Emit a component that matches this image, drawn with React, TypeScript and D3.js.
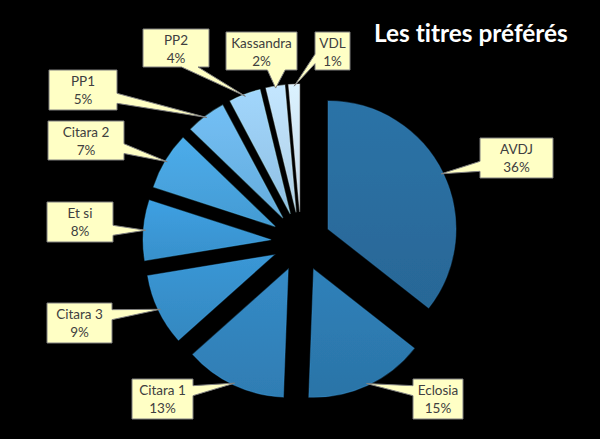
import * as d3 from 'd3';

const chartTitle = 'Les titres préférés';
const titles = ['AVDJ', 'Eclosia', 'Citara 1', 'Citara 3', 'Et si', 'Citara 2', 'PP1', 'PP2', 'Kassandra', 'VDL'];
const shares = [35.6, 15.0, 12.8, 9.0, 7.6, 7.2, 5.0, 4.0, 2.4, 1.4];
const sliceColors = ['#2a6d9e', '#2d7ab0', '#3284bd', '#378fcb', '#3b98d6', '#48a3df', '#6cb5e8', '#99cbef', '#b9daf3', '#d0e5f6'];

// callouts were placed by hand in the source chart
const calloutBoxes = [
  { x: 480, y: 138, w: 73, h: 40 },
  { x: 413, y: 379, w: 50, h: 40 },
  { x: 132, y: 379, w: 61, h: 40 },
  { x: 47, y: 303, w: 65, h: 40 },
  { x: 47, y: 202, w: 66, h: 40 },
  { x: 48, y: 121, w: 76, h: 39 },
  { x: 49, y: 70, w: 68, h: 40 },
  { x: 143, y: 29, w: 66, h: 38 },
  { x: 226, y: 32, w: 71, h: 38 },
  { x: 315, y: 32, w: 35, h: 38 },
];

const W = 600;
const H = 439;
const cx = 301;
const cy = 242;
const radius = 128;
const explode = 30;

type Box = { x: number; y: number; w: number; h: number };

// Excel-like wedge rectangle callout
function calloutPath(b: Box, tx: number, ty: number) {
  const { x, y, w, h } = b;
  const dx = tx - (x + w / 2);
  const dy = ty - (y + h / 2);
  const r = x + w;
  const bt = y + h;
  if (Math.abs(dx) / w > Math.abs(dy) / h) {
    const y1 = y + (h * (dy > 0 ? 7 : 2)) / 12;
    const y2 = y + (h * (dy > 0 ? 10 : 5)) / 12;
    if (dx > 0) return `M${x},${y}H${r}V${y1}L${tx},${ty}L${r},${y2}V${bt}H${x}Z`;
    return `M${x},${y}H${r}V${bt}H${x}V${y2}L${tx},${ty}L${x},${y1}Z`;
  }
  const x1 = x + (w * (dx > 0 ? 7 : 2)) / 12;
  const x2 = x + (w * (dx > 0 ? 10 : 5)) / 12;
  if (dy > 0) return `M${x},${y}H${r}V${bt}H${x2}L${tx},${ty}L${x1},${bt}H${x}Z`;
  return `M${x},${y}H${x1}L${tx},${ty}L${x2},${y}H${r}V${bt}H${x}Z`;
}

export default function App() {
  const total = d3.sum(shares);
  const pie = d3.pie<number>().sort(null).value((d) => d);
  const arcs = pie(shares);
  const arc = d3.arc<d3.PieArcDatum<number>>().innerRadius(0).outerRadius(radius);

  return (
    <svg width={W} height={H} style={{ position: 'absolute', left: 0, top: 0, display: 'block' }}>
      <defs>
        {sliceColors.map((c, i) => (
          <linearGradient key={i} id={`sg${i}`} x1="0" y1="0" x2="0" y2="1">
            <stop offset="0%" stopColor={d3.color(c)!.brighter(0.15).formatHex()} />
            <stop offset="100%" stopColor={d3.color(c)!.darker(0.15).formatHex()} />
          </linearGradient>
        ))}
        <filter id="soft" x="-10%" y="-10%" width="120%" height="120%">
          <feGaussianBlur stdDeviation="0.5" />
        </filter>
      </defs>
      <rect width={W} height={H} fill="#000" />

      {arcs.map((a, i) => {
        const mid = (a.startAngle + a.endAngle) / 2;
        const ox = cx + explode * Math.sin(mid);
        const oy = cy - explode * Math.cos(mid);
        return (
          <g key={titles[i]} transform={`translate(${ox},${oy})`}>
            <path d={arc(a)!} fill={`url(#sg${i})`} filter="url(#soft)" />
            <path
              d={arc(a)!}
              fill="none"
              stroke={d3.color(sliceColors[i])!.brighter(0.6).formatHex()}
              strokeOpacity={0.35}
              strokeWidth={1.2}
              filter="url(#soft)"
            />
          </g>
        );
      })}

      {arcs.map((a, i) => {
        const mid = (a.startAngle + a.endAngle) / 2;
        const tx = cx + explode * Math.sin(mid) + (radius - 2) * Math.sin(mid);
        const ty = cy - explode * Math.cos(mid) - (radius - 2) * Math.cos(mid);
        const b = calloutBoxes[i];
        const pct = `${Math.round((shares[i] / total) * 100)}%`;
        return (
          <g key={`lbl-${titles[i]}`}>
            <path d={calloutPath(b, tx, ty)} fill="#ffffc5" stroke="#7f7f7f" strokeWidth={1} strokeLinejoin="miter" />
            <text
              x={b.x + b.w / 2}
              y={b.y + 16}
              textAnchor="middle"
              fontFamily="Lato, sans-serif"
              fontSize={13.5}
              fill="#404040"
            >
              {titles[i]}
            </text>
            <text
              x={b.x + b.w / 2}
              y={b.y + 34}
              textAnchor="middle"
              fontFamily="Lato, sans-serif"
              fontSize={13.5}
              fill="#404040"
            >
              {pct}
            </text>
          </g>
        );
      })}

      <text
        x={374}
        y={42}
        fontFamily="Lato, sans-serif"
        fontWeight="bold"
        fontSize={24.4}
        fill="#fff"
        style={{ fontVariantLigatures: 'none' }}
      >
        {chartTitle}
      </text>
    </svg>
  );
}
